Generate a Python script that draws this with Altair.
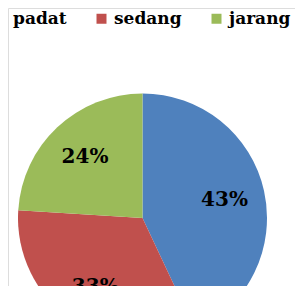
import altair as alt
import pandas as pd

categories = ["padat", "sedang", "jarang"]
values = [43, 33, 24]
labels = ["43%", "33%", "24%"]
colors = ["#4F81BD", "#C0504D", "#9BBB59"]

df = pd.DataFrame({"kategori": categories, "nilai": values, "label": labels,
                   "urut": list(range(len(categories)))})

cx, cy, r = 134.5, 210, 124.5

base = alt.Chart(df).encode(
    theta=alt.Theta("nilai:Q", stack=True),
    order=alt.Order("urut:Q"),
    x=alt.value(cx),
    y=alt.value(cy),
)

arcs = base.mark_arc(outerRadius=r, stroke=None).encode(
    color=alt.Color("kategori:N",
                    scale=alt.Scale(domain=categories, range=colors),
                    legend=alt.Legend(title=None, orient="none", legendX=-16, legendY=2,
                                      direction="horizontal", symbolType="square",
                                      symbolSize=100, symbolStrokeWidth=0,
                                      labelFont="DejaVu Serif", labelFontSize=17,
                                      labelFontWeight="bold",
                                      labelColor="#000000", labelOffset=4,
                                      columnPadding=26, padding=0))
)

texts = base.mark_text(radius=84, font="DejaVu Serif", fontSize=20, fontWeight="bold",
                       color="#000000").encode(text="label:N")

chart = alt.layer(arcs, texts).properties(
    width=287, height=278, autosize=alt.AutoSizeParams(type="none"), padding=0
).configure_view(stroke=None).configure(background="white")

chart.save("out.html", embed_options={"renderer": "svg", "actions": False})
